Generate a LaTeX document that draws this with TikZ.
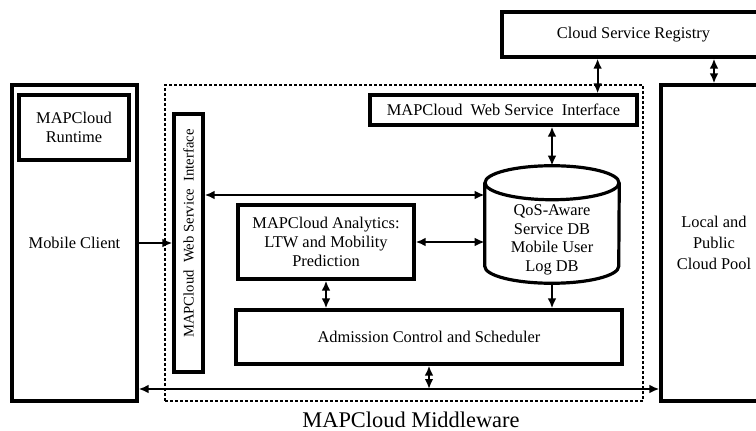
\documentclass[tikz,border=0pt]{standalone}
\usepackage{fontspec}
\setmainfont{Liberation Serif}
\usetikzlibrary{positioning,arrows.meta}

\begin{document}
\begin{tikzpicture}[x=0.75pt, y=-0.75pt]
    \tikzset{box/.style={
        draw, line width=2.4pt, align=center, font=\fontsize{12.3}{14}\selectfont
      },
      dottedbox/.style={draw, line width=2.2pt, dash pattern=on 2pt off 1.75pt},
      link/.style={line width=1.5pt, >={Latex[length=7.5pt, width=6.5pt]}}
    }
    \useasboundingbox (0,0) rectangle (756,431);

    \node[box, minimum width=93.75pt, minimum height=237pt] (client) at (74.5,243) {Mobile Client};
    \node[box, minimum width=82.5pt, minimum height=48.75pt] (runtime) at (74,127.5) {MAPCloud\\Runtime};

    \node[dottedbox, minimum width=358.5pt, minimum height=237pt] (middleware) at (404,243) {};
    \node[font=\fontsize{16.8}{18}\selectfont] (mwlabel) at (411,420) {MAPCloud Middleware};

    \node[box, minimum width=21.75pt, minimum height=193.5pt, font=\fontsize{11}{13}\selectfont] (wsleft) at (188.5,243) {\rotatebox{90}{\hspace{14.25pt}MAPCloud\ \ Web Service\ \ Interface}};
    \node[box, minimum width=200.25pt, minimum height=22.5pt] (wstop) at (503.5,110) {MAPCloud\ \ Web Service\ \ Interface};
    \node[box, minimum width=132pt, minimum height=55.5pt] (analytics) at (326,242) {MAPCloud Analytics:\\LTW and Mobility\\Prediction};
    \node[box, minimum width=289.5pt, minimum height=40.5pt] (admission) at (429,337) {Admission Control and Scheduler};

    % database cylinder
    \node[minimum width=100.5pt, minimum height=87.75pt, inner sep=0pt] (db) at (552,224.5) {};
    \draw[line width=2.4pt] ([yshift=-12.75pt]db.north) ellipse [x radius=50.25pt, y radius=12.75pt];
    \draw[line width=2.4pt] ([yshift=-12.75pt]db.north west) -- ([yshift=12.75pt]db.south west)
      arc[start angle=180, end angle=360, x radius=50.25pt, y radius=12.75pt] -- ([yshift=-12.75pt]db.north east);
    \node[align=center, font=\fontsize{12.3}{14}\selectfont] (dbtext) at ([yshift=-11.5pt]db.center) {QoS-Aware\\Service DB\\Mobile User\\Log DB};

    \node[box, minimum width=197.25pt, minimum height=33.75pt] (registry) at (633.5,34.5) {Cloud Service Registry};
    \node[box, minimum width=79.5pt, minimum height=237pt, font=\fontsize{12.3}{16}\selectfont] (pool) at (714,243) {Local and\\Public\\Cloud Pool};

    \coordinate (bus) at (428,389);

    \draw[link, ->] (client) -- (wsleft);
    \draw[link, <->] ([yshift=36pt]wsleft.east) -- ([yshift=36pt]wsleft.east -| db.west);
    \draw[link, <->] (analytics.east) -- (analytics.east -| db.west);
    \draw[link, <->] (analytics.south) -- (analytics.south |- admission.north);
    \draw[link, ->] (db.south) -- (db.south |- admission.north);
    \draw[link, <->] (wstop.south -| db.north) -- (db.north);
    \draw[link, <->] ([xshift=-30.75pt]wstop.north east) -- ([xshift=-30.75pt]wstop.north east |- registry.south);
    \draw[link, <->] (pool.north) -- (pool.north |- registry.south);

    \draw[link, <->] (client.east |- bus) -- (pool.west |- bus);
    \draw[link, <->] (admission.south) -- (admission.south |- bus);
\end{tikzpicture}
\end{document}
